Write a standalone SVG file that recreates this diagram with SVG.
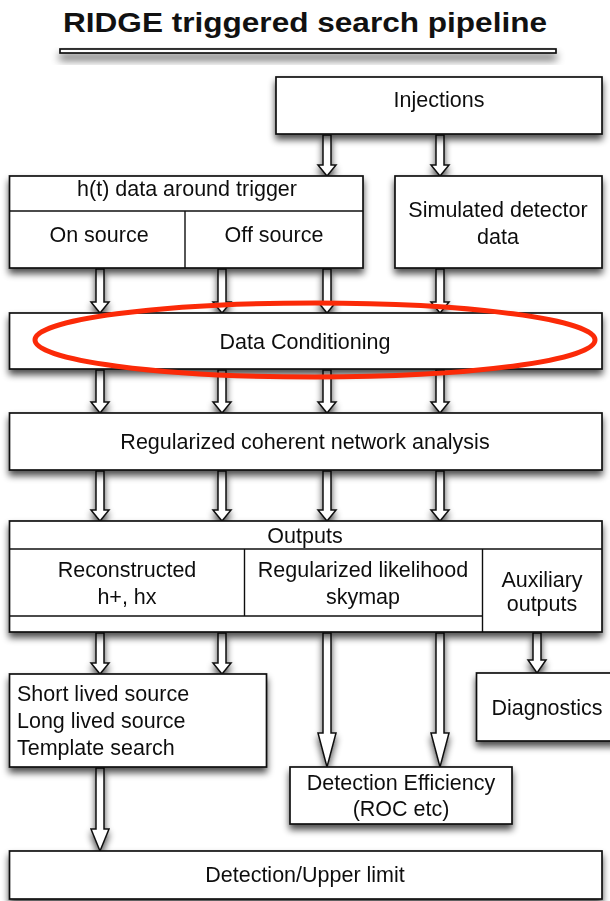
<svg xmlns="http://www.w3.org/2000/svg" width="610" height="901" viewBox="0 0 610 901">
<defs>
<filter id="sh" x="-10%" y="-20%" width="130%" height="160%">
<feGaussianBlur in="SourceAlpha" stdDeviation="3.5"/>
<feOffset dx="0" dy="5" result="b"/>
<feComponentTransfer><feFuncA type="linear" slope="0.7"/></feComponentTransfer>
<feMerge><feMergeNode/><feMergeNode in="SourceGraphic"/></feMerge>
</filter>
<filter id="shb" x="-10%" y="-200%" width="120%" height="600%">
<feGaussianBlur in="SourceAlpha" stdDeviation="4"/>
<feOffset dx="0" dy="6" result="b"/>
<feComponentTransfer><feFuncA type="linear" slope="0.7"/></feComponentTransfer>
<feMerge><feMergeNode/><feMergeNode in="SourceGraphic"/></feMerge>
</filter>
</defs>
<style>
.box{fill:#fff;stroke:#111;stroke-width:1.7}
.ln{fill:none;stroke:#111;stroke-width:1.4}
.arr{fill:#fff;stroke:#111;stroke-width:1.5;stroke-linejoin:miter}
text{font-family:"Liberation Sans",Arial,Helvetica,sans-serif;font-size:21.5px;fill:#111}
.c{text-anchor:middle}
.title{font-size:28px;font-weight:bold}
</style>
<rect width="610" height="901" fill="#fff"/>

<g id="title">
<text class="title" x="63" y="32" textLength="484" lengthAdjust="spacingAndGlyphs">RIDGE triggered search pipeline</text>
<rect x="60" y="49" width="496" height="4" class="box" filter="url(#shb)"/>
</g>

<g id="connectors" filter="url(#sh)">
<path class="arr" d="M323,135 H331 V165 H336 L327,176 L318,165 H323 Z"/>
<path class="arr" d="M436,135 H444 V165 H449 L440,176 L431,165 H436 Z"/>

<path class="arr" d="M96,269 H104 V302 H109 L100,313 L91,302 H96 Z"/>
<path class="arr" d="M218,269 H226 V302 H231 L222,313 L213,302 H218 Z"/>
<path class="arr" d="M323,269 H331 V302 H336 L327,313 L318,302 H323 Z"/>
<path class="arr" d="M436,269 H444 V302 H449 L440,313 L431,302 H436 Z"/>

<path class="arr" d="M96,370 H104 V402 H109 L100,413 L91,402 H96 Z"/>
<path class="arr" d="M218,370 H226 V402 H231 L222,413 L213,402 H218 Z"/>
<path class="arr" d="M323,370 H331 V402 H336 L327,413 L318,402 H323 Z"/>
<path class="arr" d="M436,370 H444 V402 H449 L440,413 L431,402 H436 Z"/>

<path class="arr" d="M96,471 H104 V510 H109 L100,521 L91,510 H96 Z"/>
<path class="arr" d="M218,471 H226 V510 H231 L222,521 L213,510 H218 Z"/>
<path class="arr" d="M323,471 H331 V510 H336 L327,521 L318,510 H323 Z"/>
<path class="arr" d="M436,471 H444 V510 H449 L440,521 L431,510 H436 Z"/>

<path class="arr" d="M96,633 H104 V663 H109 L100,674 L91,663 H96 Z"/>
<path class="arr" d="M218,633 H226 V663 H231 L222,674 L213,663 H218 Z"/>
<path class="arr" d="M323,633 H331 V733 H336 L327,767 L318,733 H323 Z"/>
<path class="arr" d="M436,633 H444 V733 H449 L440,767 L431,733 H436 Z"/>
<path class="arr" d="M533,633 H541 V660 H546 L537,673 L528,660 H533 Z"/>

<path class="arr" d="M96,768 H104 V829 H109 L100,851 L91,829 H96 Z"/>
</g>

<g id="injections" filter="url(#sh)">
<rect class="box" x="276" y="77" width="326" height="57"/>
<text class="c" x="439" y="107">Injections</text>
</g>

<g id="ht-data" filter="url(#sh)">
<rect class="box" x="9.5" y="176" width="353.5" height="92"/>
<path class="ln" d="M9.5,211 H363 M185,211 V268"/>
<text class="c" x="187" y="196">h(t) data around trigger</text>
<text class="c" x="99" y="242">On source</text>
<text class="c" x="274" y="242">Off source</text>
</g>

<g id="simulated" filter="url(#sh)">
<rect class="box" x="395" y="176" width="207" height="92"/>
<text class="c" x="498" y="217">Simulated detector</text>
<text class="c" x="498" y="244">data</text>
</g>

<g id="data-conditioning" filter="url(#sh)">
<rect class="box" x="9.5" y="313" width="592.5" height="56"/>
<text class="c" x="305" y="349">Data Conditioning</text>
</g>

<g id="highlight">
<ellipse cx="315" cy="340" rx="280" ry="37" fill="none" stroke="#fb2a08" stroke-width="5"/>
</g>

<g id="regularized" filter="url(#sh)">
<rect class="box" x="9.5" y="413" width="592.5" height="57"/>
<text class="c" x="305" y="449">Regularized coherent network analysis</text>
</g>

<g id="outputs" filter="url(#sh)">
<rect class="box" x="9.5" y="521" width="592.5" height="111"/>
<path class="ln" d="M9.5,549 H602 M244.5,549 V616 M482.5,549 V632 M9.5,616 H482.5"/>
<text class="c" x="305" y="543">Outputs</text>
<text class="c" x="127" y="577">Reconstructed</text>
<text class="c" x="127" y="604">h+, hx</text>
<text class="c" x="363" y="577">Regularized likelihood</text>
<text class="c" x="363" y="604">skymap</text>
<text class="c" x="542" y="587">Auxiliary</text>
<text class="c" x="542" y="611">outputs</text>
</g>

<g id="searches" filter="url(#sh)">
<rect class="box" x="9.5" y="674" width="257" height="93"/>
<text x="17" y="701">Short lived source</text>
<text x="17" y="728">Long lived source</text>
<text x="17" y="755">Template search</text>
</g>

<g id="diagnostics" filter="url(#sh)">
<rect class="box" x="476.5" y="673" width="140" height="68"/>
<text class="c" x="547" y="715">Diagnostics</text>
</g>

<g id="detection-efficiency" filter="url(#sh)">
<rect class="box" x="290" y="767" width="222" height="57"/>
<text class="c" x="401" y="790">Detection Efficiency</text>
<text class="c" x="401" y="816">(ROC etc)</text>
</g>

<g id="upper-limit" filter="url(#sh)">
<rect class="box" x="9.5" y="851" width="592.5" height="48"/>
<text class="c" x="305" y="882">Detection/Upper limit</text>
</g>
</svg>
